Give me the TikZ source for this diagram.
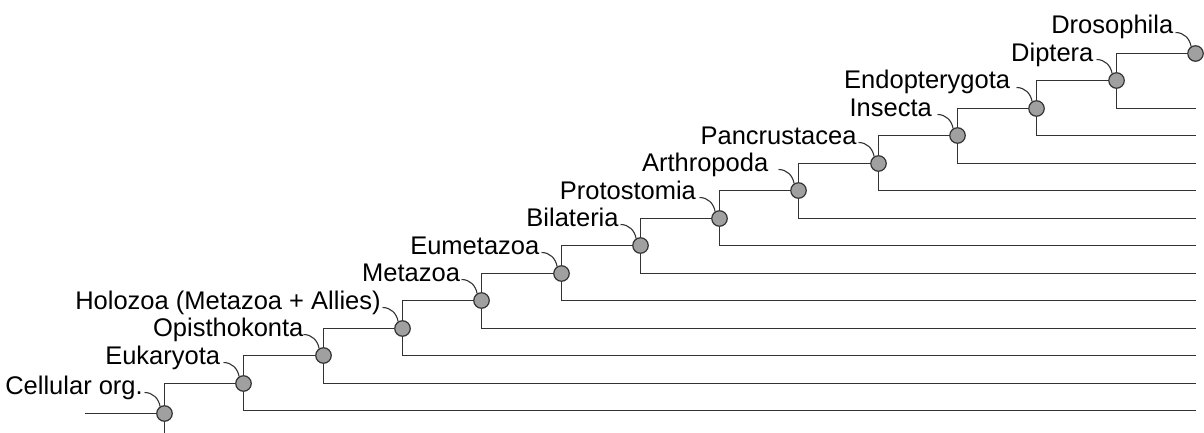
\documentclass[tikz,border=0pt]{standalone}
\usepackage{fontspec}
\setmainfont{Liberation Sans}
\definecolor{linec}{HTML}{333333}
\definecolor{dotc}{HTML}{A0A0A0}
\begin{document}
\begin{tikzpicture}[x=1pt,y=-1pt,
  branch/.style={draw=linec,line width=1.8pt},
  dot/.style={circle,draw=linec,fill=dotc,line width=1.2pt,minimum size=15.5pt,inner sep=0pt},
  lab/.style={anchor=base east,inner sep=0pt,font=\fontsize{25.5}{30}\selectfont,text=black},
  tick/.style={draw=linec,line width=1.1pt}]
\useasboundingbox (0,0) rectangle (1204,433);
% nodes
\node[dot] (n0)  at (164.5,413.5) {};
\node[dot] (n1)  at (243.5,383.5) {};
\node[dot] (n2)  at (323.5,355.5) {};
\node[dot] (n3)  at (402.5,328.5) {};
\node[dot] (n4)  at (481.5,300.5) {};
\node[dot] (n5)  at (561.5,273.5) {};
\node[dot] (n6)  at (640.5,245.5) {};
\node[dot] (n7)  at (719.5,218.5) {};
\node[dot] (n8)  at (798.5,190.5) {};
\node[dot] (n9)  at (878.5,163.5) {};
\node[dot] (n10) at (957.5,135.5) {};
\node[dot] (n11) at (1036.5,108.5) {};
\node[dot] (n12) at (1116.5,80.5) {};
\node[dot] (n13) at (1195.5,53.5) {};
% free ends
\coordinate (L) at (85,413.5);
\coordinate (B) at (164.5,433);
\coordinate (e1)  at (1196,410.5);
\coordinate (e2)  at (1196,383.5);
\coordinate (e3)  at (1196,355.5);
\coordinate (e4)  at (1196,328.5);
\coordinate (e5)  at (1196,300.5);
\coordinate (e6)  at (1196,273.5);
\coordinate (e7)  at (1196,245.5);
\coordinate (e8)  at (1196,218.5);
\coordinate (e9)  at (1196,190.5);
\coordinate (e10) at (1196,163.5);
\coordinate (e11) at (1196,135.5);
\coordinate (e12) at (1196,108.5);
% branches
\draw[branch] (L) -- (n0);
\draw[branch] (n0) -- (B);
\foreach \a/\b in {0/1,1/2,2/3,3/4,4/5,5/6,6/7,7/8,8/9,9/10,10/11,11/12,12/13}
  \draw[branch] (n\a) |- (n\b);
\foreach \a in {1,...,12}
  \draw[branch] (n\a) |- (e\a);
% labels
\node[lab] (l0)  at (143,394) {Cellular org.};
\node[lab] (l1)  at (220.3,364) {Eukaryota};
\node[lab] (l2)  at (303.6,336.5) {Opisthokonta};
\node[lab] (l3)  at (380.9,309) {Holozoa (Metazoa + Allies)};
\node[lab] (l4)  at (460.2,281.5) {Metazoa};
\node[lab] (l5)  at (539.5,254) {Eumetazoa};
\node[lab] (l6)  at (618.8,226.5) {Bilateria};
\node[lab] (l7)  at (696.1,199) {Protostomia};
\node[lab] (l8)  at (768.4,171.5) {Arthropoda};
\node[lab] (l9)  at (856.7,144) {Pancrustacea};
\node[lab] (l10) at (932,116.5) {Insecta};
\node[lab] (l11) at (1010.3,89) {Endopterygota};
\node[lab] (l12) at (1093.6,61.5) {Diptera};
\node[lab] (l13) at (1173.4,34) {Drosophila};
% label ticks
\foreach \k in {0,...,13}
  \draw[tick] ([shift={(-20,-21)}]n\k.center) to[out=0,in=100] (n\k.122);
\end{tikzpicture}
\end{document}
